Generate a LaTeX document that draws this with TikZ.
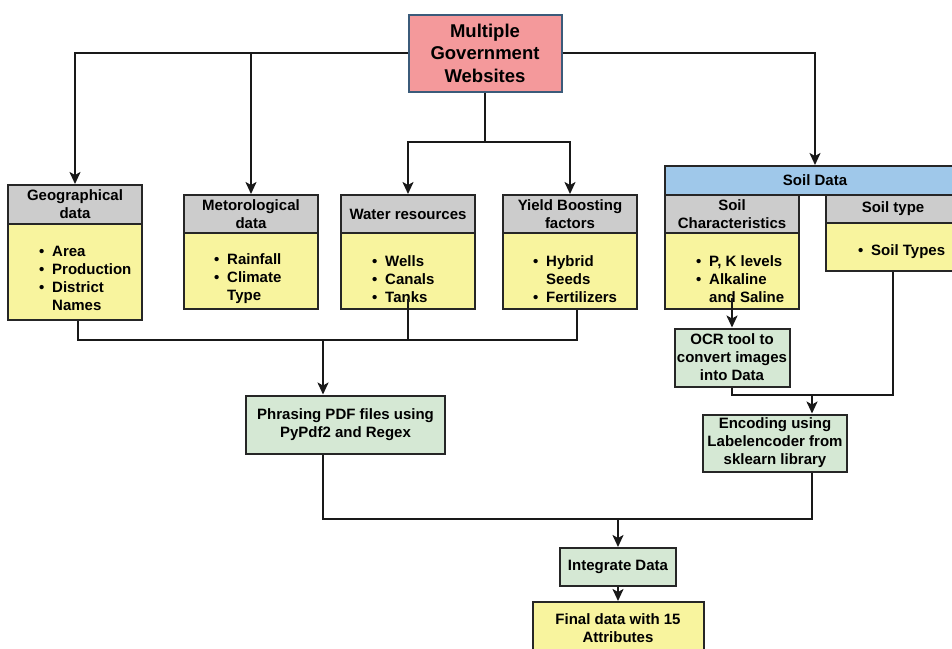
\documentclass[tikz,border=0pt]{standalone}
\usepackage{fontspec}
\setmainfont{Liberation Sans}
\usetikzlibrary{arrows.meta,calc}
\definecolor{pinkc}{HTML}{F4999B}
\definecolor{pinkd}{HTML}{3B5B7A}
\definecolor{grayc}{HTML}{CCCCCC}
\definecolor{yellowc}{HTML}{F8F49E}
\definecolor{greenc}{HTML}{D5E8D4}
\definecolor{bluec}{HTML}{9FC8EA}
\newcommand\myb{\makebox[13pt][l]{\textbullet}}
\newcommand\myi{\hspace*{13pt}}
\begin{document}
\begin{tikzpicture}[x=1pt,y=-1pt,
 box/.style={draw=black!85, line width=2pt, inner sep=0pt, align=center, font=\bfseries\fontsize{15}{18}\selectfont},
 hdr/.style={box, fill=grayc},
 body/.style={box, fill=yellowc},
 grn/.style={box, fill=greenc},
 lst/.style={inner sep=0pt, anchor=west, align=left, font=\bfseries\fontsize{15}{18}\selectfont},
 line/.style={line width=2pt, black!90},
 arr/.style={line, -{Stealth[length=12pt,width=11pt,inset=3pt]}}]
\useasboundingbox (0,0) rectangle (952,648);
\clip (0,0) rectangle (952,648);
% top
\node[box, fill=pinkc, draw=pinkd, minimum width=153, minimum height=77, font=\bfseries\fontsize{18.5}{22.5}\selectfont] (top) at (485,53) {Multiple\\Government\\Websites};
% geographical
\node[body, minimum width=134, minimum height=96] (geoB) at (75,272) {};
\node[hdr, minimum width=134, minimum height=39] (geoH) at (75,204.5) {Geographical\\data};
\node[lst] (geoL) at (39,278) {\myb Area\\\myb Production\\\myb District\\\myi Names};
% met
\node[body, minimum width=134, minimum height=76] (metB) at (251,271) {};
\node[hdr, minimum width=134, minimum height=38] (metH) at (251,214) {Metorological\\data};
\node[lst] (metL) at (214,279) {\myb Rainfall\\\myb Climate\\\myi Type};
% water
\node[body, minimum width=134, minimum height=76] (watB) at (408,271) {};
\node[hdr, minimum width=134, minimum height=38] (watH) at (408,214) {Water resources};
\node[lst] (watL) at (372,279) {\myb Wells\\\myb Canals\\\myb Tanks};
% yield
\node[body, minimum width=134, minimum height=76] (yldB) at (570,271) {};
\node[hdr, minimum width=134, minimum height=38] (yldH) at (570,214) {Yield Boosting\\factors};
\node[lst] (yldL) at (533,279) {\myb Hybrid\\\myi Seeds\\\myb Fertilizers};
% soil
\node[box, fill=bluec, minimum width=300, minimum height=29] (soilD) at (815,180.5) {Soil Data};
\node[body, minimum width=134, minimum height=76] (scB) at (732,271) {};
\node[hdr, minimum width=134, minimum height=38] (scH) at (732,214) {Soil\\Characteristics};
\node[lst] (scL) at (696,279) {\myb P, K levels\\\myb Alkaline\\\myi and Saline};
\node[body, minimum width=134, minimum height=48] (stB) at (893,247) {};
\node[hdr, minimum width=134, minimum height=28] (stH) at (893,209) {Soil type};
\node[lst] (stL) at (858,252) {\myb Soil Types};
% process boxes
\node[grn, minimum width=115, minimum height=58] (ocr) at (732,357.5) {OCR tool to\\convert images\\into Data};
\node[grn, minimum width=199, minimum height=58] (phr) at (345.5,424.5) {Phrasing PDF files using\\PyPdf2 and Regex};
\node[grn, minimum width=144, minimum height=57] (enc) at (775,443) {Encoding using\\Labelencoder from\\sklearn library};
\node[grn, minimum width=116, minimum height=38] (integ) at (618,567) {Integrate Data};
\node[body, minimum width=171, minimum height=52, anchor=north] (final) at (618,601) {Final data with 15\\Attributes};
% connectors from top
\draw[arr] (top.west) -| (geoH.north);
\draw[arr] (top.west) -| (metH.north);
\draw[arr] (top.east) -| (soilD.north);
\coordinate (split) at (485,142);
\draw[line] (top.south) -- (split);
\draw[arr] (split) -| (watH.north);
\draw[arr] (split) -| (yldH.north);
% bus to phrasing
\coordinate (busL) at (78,340);
\coordinate (busR) at (577,340);
\draw[line] ([xshift=3pt]geoB.south) -- (busL) -- (busR) -- ([xshift=7pt]yldB.south);
\draw[line] ([xshift=9pt]metB.south) -- ($(metB.south)+(9,0)$ |- busL);
\draw[line] ([yshift=11pt]watB.south) -- (watB.south |- busL);
\coordinate (phrIn) at ($(phr.north)+(-22.5,0)$);
\draw[arr] (phrIn |- busL) -- (phrIn);
% merge
\coordinate (phrX) at ($(phr.south)+(-22.5,0)$);
\coordinate (encX) at ($(enc.south)+(37,0)$);
\coordinate (merge) at (618,519);
\draw[line] (phrX) |- (merge) -| (encX);
\draw[arr] (merge) -- (integ.north);
\draw[arr] (integ.south) -- (final.north);
% soil path
\draw[arr] ([yshift=12pt]scB.south) -- (ocr.north);
\coordinate (sj) at (812,395);
\draw[line] (ocr.south) |- (sj) -| (stB.south);
\draw[arr] (sj) -- (sj |- enc.north);
\end{tikzpicture}
\end{document}
